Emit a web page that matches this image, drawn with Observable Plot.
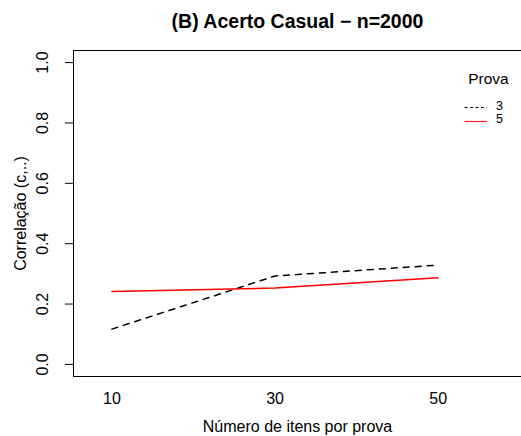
<!DOCTYPE html>
<html>
<head>
<meta charset="utf-8">
<script src="https://cdn.jsdelivr.net/npm/d3@7"></script>
<script src="https://cdn.jsdelivr.net/npm/@observablehq/plot@0.6"></script>
<style>
  html, body { margin: 0; padding: 0; background: #fff; }
  #chart svg { display: block; }
</style>
</head>
<body>
<div id="chart"></div>
<script>
// ---- data ----
const itens = [10, 30, 50];                 // Número de itens por prova
const prova3 = [0.117, 0.293, 0.329];       // Prova = 3 (dashed black)
const prova5 = [0.242, 0.253, 0.287];       // Prova = 5 (solid red)
const xTicks = [10, 30, 50];
const yTicks = [0, 0.2, 0.4, 0.6, 0.8, 1.0];
const titulo = "(B) Acerto Casual \u2212 n=2000";
const xTitulo = "Número de itens por prova";
const yTitulo = "Correlação (c,..)";
const legendaTitulo = "Prova";
const legendaNomes = ["3", "5"];

const rows = [
  ...itens.map((x, i) => ({x, y: prova3[i], prova: "3"})),
  ...itens.map((x, i) => ({x, y: prova5[i], prova: "5"}))
];

const xDomain = [5.29, 60.22];
const yDomain = [-0.04, 1.04];
const font = "Liberation Sans, Arial, Helvetica, sans-serif";

const chart = Plot.plot({
  width: 521,
  height: 436,
  marginLeft: 73,
  marginRight: 0,
  marginTop: 50,
  marginBottom: 60,
  style: {fontFamily: font, background: "#fff", color: "#000"},
  x: {domain: xDomain, axis: null},
  y: {domain: yDomain, axis: null},
  marks: [
    // box (left, top, bottom; right edge falls outside the picture)
    Plot.ruleX([xDomain[0]], {stroke: "#000", strokeWidth: 1}),
    Plot.ruleY([yDomain[0], yDomain[1]], {stroke: "#000", strokeWidth: 1}),
    // y ticks
    Plot.axisY({ticks: yTicks, tickSize: 8, tickFormat: () => "", label: null, stroke: "#000"}),
    // y tick labels (rotated like R)
    Plot.text(yTicks, {x: () => xDomain[0], y: d => d, text: d => d.toFixed(1),
      rotate: -90, dx: -31, fontSize: 16, fill: "#000", textAnchor: "middle", lineAnchor: "middle"}),
    // x tick labels
    Plot.text(xTicks, {x: d => d, y: () => yDomain[0], text: d => String(d),
      dy: 22, fontSize: 16, fill: "#000", lineAnchor: "middle"}),
    // lines
    Plot.line(rows.filter(d => d.prova === "3"), {x: "x", y: "y", stroke: "#000",
      strokeWidth: 1.5, strokeDasharray: "6,6"}),
    Plot.line(rows.filter(d => d.prova === "5"), {x: "x", y: "y", stroke: "#ff0000",
      strokeWidth: 1.5}),
    // titles
    Plot.text([titulo], {frameAnchor: "top", dy: -28.5, lineAnchor: "middle", textAnchor: "middle",
      fontSize: 19.5, fontWeight: "bold", fill: "#000"}),
    Plot.text([xTitulo], {frameAnchor: "bottom", dy: 50, lineAnchor: "middle", textAnchor: "middle",
      fontSize: 16, fill: "#000"}),
    Plot.text([yTitulo], {frameAnchor: "left", dx: -53, rotate: -90, lineAnchor: "middle", textAnchor: "middle",
      fontSize: 16, fill: "#000"})
  ]
});

// legend (R-style, inside the plot region at the right)
const svg = d3.select(chart);
const g = svg.append("g").style("font-family", font);
g.append("text").attr("x", 488.5).attr("y", 84).attr("text-anchor", "middle")
  .style("font-size", "15.5px").style("fill", "#000").text(legendaTitulo);
const legY = [107.5, 121.5];
const legTextY = [106, 119];
const legStroke = ["#000000", "#ff2020"];
const legDash = ["3,2.5", "none"];
legendaNomes.forEach((nome, i) => {
  g.append("line").attr("x1", 464.5).attr("x2", 487).attr("y1", legY[i]).attr("y2", legY[i])
    .attr("stroke", legStroke[i])
    .style("stroke", legStroke[i]).style("stroke-width", "1.2px").style("stroke-dasharray", legDash[i]);
  g.append("text").attr("x", 499.5).attr("y", legTextY[i]).attr("dy", "0.35em")
    .style("font-size", "12.5px").style("fill", "#000").text(nome);
});

document.getElementById("chart").appendChild(chart);
</script>
</body>
</html>
